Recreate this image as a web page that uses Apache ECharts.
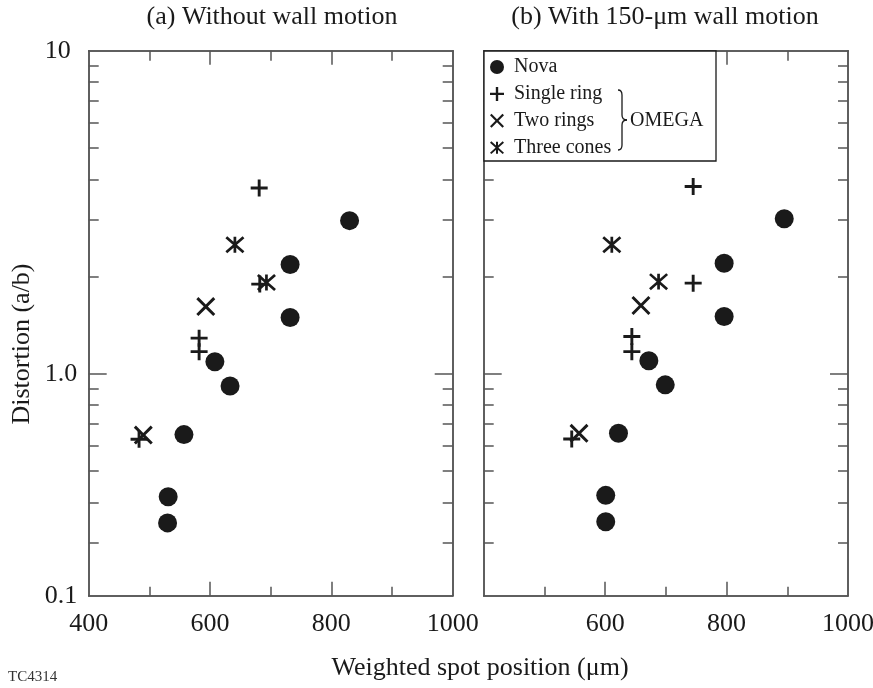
<!DOCTYPE html>
<html>
<head>
<meta charset="utf-8">
<script src="https://cdn.jsdelivr.net/npm/echarts@6/dist/echarts.min.js"></script>
<style>
  html, body { margin: 0; padding: 0; background: #fff; }
  #chart { width: 873px; height: 688px; }
</style>
</head>
<body>
<div id="chart"></div>
<script>
// (a) without wall motion: [spot position um, distortion a/b]
var novaA   = [[530, 0.346], [531, 0.417], [557, 0.649], [608, 1.09], [633, 0.918], [732, 1.494], [732, 2.18], [830, 2.98]];
var singleA = [[483, 0.628], [582, 1.172], [582, 1.29], [681, 3.76], [682, 1.896]];
var twoA    = [[490, 0.647], [593, 1.616]];
var conesA  = [[641, 2.51], [693, 1.918]];

// (b) with 150-um wall motion
var novaB   = [[601, 0.349], [601, 0.421], [622, 0.655], [672, 1.099], [699, 0.925], [796, 1.505], [796, 2.20], [895, 3.02]];
var singleB = [[545, 0.629], [644, 1.172], [644, 1.305], [745, 1.909], [745, 3.80]];
var twoB    = [[557, 0.655], [659, 1.628]];
var conesB  = [[611, 2.51], [688, 1.93]];

var seriesNames = ['Nova', 'Single ring', 'Two rings', 'Three cones'];

// axes
var xMin = 400, xMax = 1000;
var xMajorTicks = [600, 800];
var xMinorTicks = [500, 700, 900];
var xLabelsA = [400, 600, 800, 1000];
var xLabelsB = [600, 800, 1000];
var yMin = 0.206, yMax = 10;      // bottom of frame sits near 0.2 in the original
var yMajorTicks = [1];
var yMinorTicks = [0.3, 0.4, 0.5, 0.6, 0.7, 0.8, 0.9, 2, 3, 4, 5, 6, 7, 8, 9];
var yLabelValues = [0.206, 1, 10];
var yLabelText = ['0.1', '1.0', '10'];

var FONT = 'Liberation Serif';
var INK = '#1a1a1a';
var AXIS = '#555';

var PLUS = 'path://M-1.7,-10L1.7,-10L1.7,-1.7L10,-1.7L10,1.7L1.7,1.7L1.7,10L-1.7,10L-1.7,1.7L-10,1.7L-10,-1.7L-1.7,-1.7Z';
var CROSS = 'path://M-10,-7.8L-7.8,-10L0,-2.2L7.8,-10L10,-7.8L2.2,0L10,7.8L7.8,10L0,2.2L-7.8,10L-10,7.8L-2.2,0Z';
var STAR = 'path://M-1.5,-9L1.5,-9L1.5,9L-1.5,9Z' +
  'M-8.5,-9.6L10.5,7.4L8.5,9.6L-10.5,-7.4Z' +
  'M10.5,-7.4L-8.5,9.6L-10.5,7.4L8.5,-9.6Z';
var symbols = ['circle', PLUS, CROSS, STAR];
var sizes = [19, 17, 19, [19, 17]];

var chart = echarts.init(document.getElementById('chart'));

function lineStyle() { return { color: AXIS, width: 1.5 }; }

function xAxis(gi, pos, ticks, len, labels) {
  return {
    type: 'value', gridIndex: gi, position: pos, min: xMin, max: xMax,
    axisLine: { show: true, onZero: false, lineStyle: lineStyle() },
    axisTick: { show: true, inside: true, length: len, customValues: ticks, lineStyle: lineStyle() },
    axisLabel: labels ? {
      show: true, customValues: labels, margin: 15,
      fontFamily: FONT, fontSize: 26, color: INK,
      formatter: function (v) { return String(v); }
    } : { show: false },
    splitLine: { show: false }
  };
}

function yAxis(gi, pos, ticks, len, labels) {
  return {
    type: 'log', gridIndex: gi, position: pos, min: yMin, max: yMax, logBase: 10,
    axisLine: { show: true, onZero: false, lineStyle: lineStyle() },
    axisTick: { show: true, inside: true, length: len, customValues: ticks, lineStyle: lineStyle() },
    axisLabel: labels ? {
      show: true, customValues: labels, margin: 44, align: 'left',
      fontFamily: FONT, fontSize: 26, color: INK,
      formatter: function (v) {
        var best = 0;
        for (var i = 1; i < yLabelValues.length; i++) {
          if (Math.abs(Math.log(v / yLabelValues[i])) < Math.abs(Math.log(v / yLabelValues[best]))) best = i;
        }
        return yLabelText[best];
      }
    } : { show: false },
    splitLine: { show: false },
    minorSplitLine: { show: false }
  };
}

var xAxes = [], yAxes = [];
[0, 1].forEach(function (gi) {
  xAxes.push(xAxis(gi, 'bottom', xMajorTicks, 14, gi === 0 ? xLabelsA : xLabelsB));
  xAxes.push(xAxis(gi, 'bottom', xMinorTicks, 9));
  xAxes.push(xAxis(gi, 'top', xMajorTicks, 14));
  xAxes.push(xAxis(gi, 'top', xMinorTicks, 10));
  yAxes.push(yAxis(gi, 'left', yMajorTicks, 18, gi === 0 ? yLabelValues : null));
  yAxes.push(yAxis(gi, 'left', yMinorTicks, 10));
  yAxes.push(yAxis(gi, 'right', yMajorTicks, 18));
  yAxes.push(yAxis(gi, 'right', yMinorTicks, 10));
});

var panels = [[novaA, singleA, twoA, conesA], [novaB, singleB, twoB, conesB]];
var series = [];
panels.forEach(function (sets, gi) {
  sets.forEach(function (d, k) {
    series.push({
      name: seriesNames[k], type: 'scatter',
      xAxisIndex: gi * 4, yAxisIndex: gi * 4,
      data: d, symbol: symbols[k], symbolSize: sizes[k],
      itemStyle: { color: INK, opacity: 1 }, z: 3,
      emphasis: { disabled: true }
    });
  });
});

var braceStyle = { fill: 'none', stroke: INK, lineWidth: 1.3 };
function braceCurve(x1, y1, cx, cy, x2, y2) {
  return { type: 'bezierCurve', z: 21, shape: { x1: x1, y1: y1, cpx1: cx, cpy1: cy, x2: x2, y2: y2 }, style: braceStyle };
}
function braceLine(x1, y1, x2, y2) {
  return { type: 'line', z: 21, shape: { x1: x1, y1: y1, x2: x2, y2: y2 }, style: braceStyle };
}

chart.setOption({
  backgroundColor: '#fff',
  animation: false,
  grid: [
    { left: 88.7, top: 50.7, width: 364, height: 545, outerBoundsMode: 'none', containLabel: false },
    { left: 483.7, top: 50.7, width: 364.3, height: 545, outerBoundsMode: 'none', containLabel: false }
  ],
  xAxis: xAxes,
  yAxis: yAxes,
  legend: {
    orient: 'vertical', left: 490, top: 57, padding: 0, z: 20,
    itemWidth: 14, itemHeight: 14, itemGap: 6.9, selectedMode: false,
    textStyle: { fontFamily: FONT, fontSize: 20, color: INK, padding: [0, 0, 0, 5] },
    data: seriesNames.map(function (n, k) {
      return { name: n, icon: symbols[k], itemStyle: { color: INK, opacity: 1 } };
    })
  },
  graphic: [
    { type: 'rect', z: 10, shape: { x: 484, y: 51, width: 232, height: 110 },
      style: { fill: '#fff', stroke: INK, lineWidth: 1.3 } },
    braceCurve(618, 90, 622, 90, 622, 95),
    braceLine(622, 95, 622, 115),
    braceCurve(622, 115, 622, 120, 627, 120),
    braceCurve(627, 120, 622, 120, 622, 125),
    braceLine(622, 125, 622, 145),
    braceCurve(622, 145, 622, 150, 618, 150),
    { type: 'text', z: 21, x: 630, y: 121,
      style: { text: 'OMEGA', font: '20px "Liberation Serif"', fill: INK, align: 'left', verticalAlign: 'middle' } },
    { type: 'text', x: 272, y: 17,
      style: { text: '(a) Without wall motion', font: '26px "Liberation Serif"', fill: INK, align: 'center', verticalAlign: 'middle' } },
    { type: 'text', x: 665, y: 17,
      style: { text: '(b) With 150-\u03bcm wall motion', font: '26px "Liberation Serif"', fill: INK, align: 'center', verticalAlign: 'middle' } },
    { type: 'text', x: 480, y: 668,
      style: { text: 'Weighted spot position (\u03bcm)', font: '26px "Liberation Serif"', fill: INK, align: 'center', verticalAlign: 'middle' } },
    { type: 'text', x: 22, y: 344, rotation: Math.PI / 2,
      style: { text: 'Distortion (a/b)', font: '26px "Liberation Serif"', fill: INK, align: 'center', verticalAlign: 'middle' } },
    { type: 'text', x: 8, y: 677,
      style: { text: 'TC4314', font: '15px "Liberation Serif"', fill: '#333', align: 'left', verticalAlign: 'middle' } }
  ],
  series: series
});
</script>
</body>
</html>
